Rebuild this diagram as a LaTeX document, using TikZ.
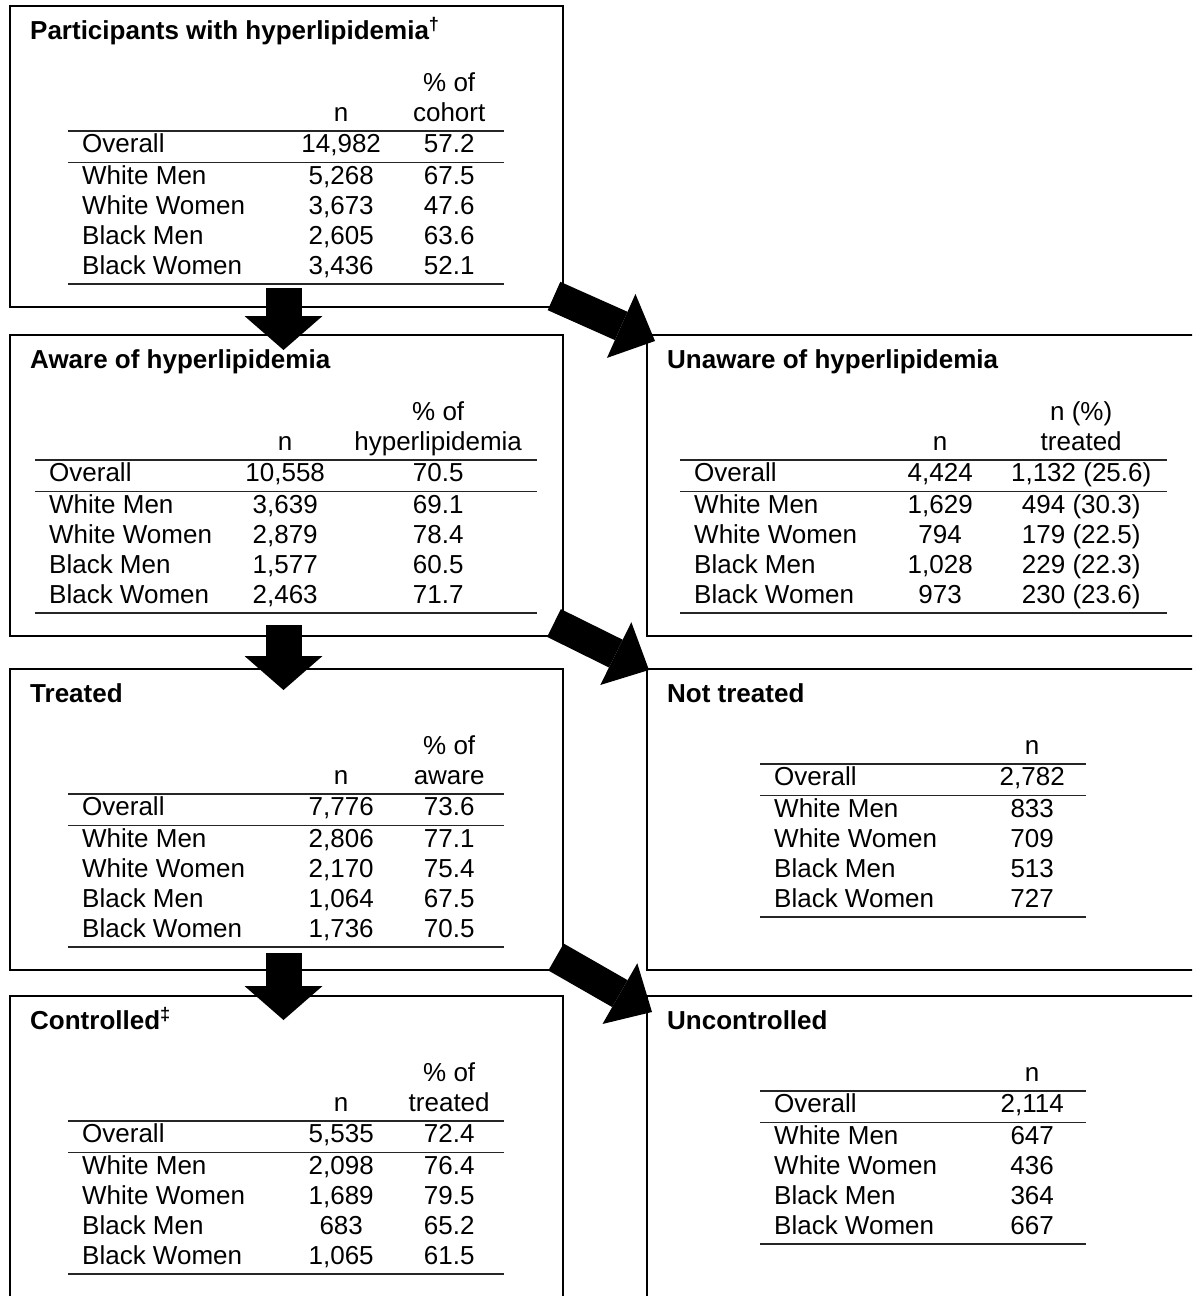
\PassOptionsToPackage{table}{xcolor}
\documentclass[tikz,border=0pt]{standalone}
\usepackage{fontspec}
\setmainfont{Liberation Sans}
\usepackage{array}
\usepackage{tikz}
\usetikzlibrary{arrows.meta, positioning}
\newcolumntype{L}[1]{>{\raggedright\arraybackslash}p{#1}}
\newcolumntype{C}[1]{>{\centering\arraybackslash}p{#1}}
\setlength{\tabcolsep}{0pt}
\setlength{\arrayrulewidth}{1.6pt}
\arrayrulecolor{black!85}

\begin{document}
\begin{tikzpicture}[
    x=1pt, y=1pt,
    every node/.style={font=\fontsize{26}{30}\selectfont},
    stage/.style={
        rectangle,
        draw=black,
        line width=2.8pt,
        minimum width=553pt,
        minimum height=301pt,
        inner sep=0pt,
        outer sep=0pt
    },
    title/.style={font=\fontsize{26}{30}\selectfont\bfseries, anchor=base west, inner sep=0pt},
    tab/.style={anchor=base west, inner sep=0pt},
    flow/.style={line width=36pt, -{Triangle[length=34pt, width=78pt, line width=0pt]}},
    branch/.style={line width=31pt, -{Triangle[length=37pt, width=70pt, line width=0pt]}}
]
\useasboundingbox (0,0) rectangle (1192,-1296);
\clip (0,0) rectangle (1192,-1296);

% boxes
\node[stage, anchor=north west] (hyper) at (10,-6) {};
\node[stage, below=28pt of hyper] (aware) {};
\node[stage, below=33pt of aware] (treated) {};
\node[stage, below=26pt of treated] (controlled) {};
\node[stage, right=84pt of aware] (unaware) {};
\node[stage, right=84pt of treated] (untreated) {};
\node[stage, right=84pt of controlled] (uncontrolled) {};

% titles
\node[title] (hyper-t) at ([shift={(20,-33.5)}]hyper.north west) {Participants with hyperlipidemia\textsuperscript{†}};
\node[title] (aware-t) at ([shift={(20,-33.5)}]aware.north west) {Aware of hyperlipidemia};
\node[title] (treated-t) at ([shift={(20,-33.5)}]treated.north west) {Treated};
\node[title] (controlled-t) at ([shift={(20,-33.5)}]controlled.north west) {Controlled\textsuperscript{‡}};
\node[title] (unaware-t) at ([shift={(20,-33.5)}]unaware.north west) {Unaware of hyperlipidemia};
\node[title] (untreated-t) at ([shift={(20,-33.5)}]untreated.north west) {Not treated};
\node[title] (uncontrolled-t) at ([shift={(20,-33.5)}]uncontrolled.north west) {Uncontrolled};

% tables
\node[tab] (hyper-tab) at ([shift={(58,-85)}]hyper.north west) {%
\begin{tabular}[t]{@{\hspace{14pt}}L{206pt}C{106pt}C{110pt}@{}}
 & & \% of \\
 & n & cohort \\ \hline
Overall & 14,982 & 57.2 \\ \hline
White Men & 5,268 & 67.5 \\
White Women & 3,673 & 47.6 \\
Black Men & 2,605 & 63.6 \\
Black Women & 3,436 & 52.1 \\ \hline
\end{tabular}};

\node[tab] (aware-tab) at ([shift={(25,-85)}]aware.north west) {%
\begin{tabular}[t]{@{\hspace{14pt}}L{182pt}C{108pt}C{198pt}@{}}
 & & \% of \\
 & n & hyperlipidemia \\ \hline
Overall & 10,558 & 70.5 \\ \hline
White Men & 3,639 & 69.1 \\
White Women & 2,879 & 78.4 \\
Black Men & 1,577 & 60.5 \\
Black Women & 2,463 & 71.7 \\ \hline
\end{tabular}};

\node[tab] (treated-tab) at ([shift={(58,-85)}]treated.north west) {%
\begin{tabular}[t]{@{\hspace{14pt}}L{206pt}C{106pt}C{110pt}@{}}
 & & \% of \\
 & n & aware \\ \hline
Overall & 7,776 & 73.6 \\ \hline
White Men & 2,806 & 77.1 \\
White Women & 2,170 & 75.4 \\
Black Men & 1,064 & 67.5 \\
Black Women & 1,736 & 70.5 \\ \hline
\end{tabular}};

\node[tab] (controlled-tab) at ([shift={(58,-85)}]controlled.north west) {%
\begin{tabular}[t]{@{\hspace{14pt}}L{206pt}C{106pt}C{110pt}@{}}
 & & \% of \\
 & n & treated \\ \hline
Overall & 5,535 & 72.4 \\ \hline
White Men & 2,098 & 76.4 \\
White Women & 1,689 & 79.5 \\
Black Men & 683 & 65.2 \\
Black Women & 1,065 & 61.5 \\ \hline
\end{tabular}};

\node[tab] (unaware-tab) at ([shift={(33,-85)}]unaware.north west) {%
\begin{tabular}[t]{@{\hspace{14pt}}L{191pt}C{110pt}C{172pt}@{}}
 & & n (\%) \\
 & n & treated \\ \hline
Overall & 4,424 & 1,132 (25.6) \\ \hline
White Men & 1,629 & 494 (30.3) \\
White Women & 794 & 179 (22.5) \\
Black Men & 1,028 & 229 (22.3) \\
Black Women & 973 & 230 (23.6) \\ \hline
\end{tabular}};

\node[tab] (untreated-tab) at ([shift={(113,-85)}]untreated.north west) {%
\begin{tabular}[t]{@{\hspace{14pt}}L{204pt}C{108pt}@{}}
 & n \\ \hline
Overall & 2,782 \\ \hline
White Men & 833 \\
White Women & 709 \\
Black Men & 513 \\
Black Women & 727 \\ \hline
\end{tabular}};

\node[tab] (uncontrolled-tab) at ([shift={(113,-85)}]uncontrolled.north west) {%
\begin{tabular}[t]{@{\hspace{14pt}}L{204pt}C{108pt}@{}}
 & n \\ \hline
Overall & 2,114 \\ \hline
White Men & 647 \\
White Women & 436 \\
Black Men & 364 \\
Black Women & 667 \\ \hline
\end{tabular}};

% arrows
\draw[flow] ([shift={(-3,19)}]hyper.south) -- ([shift={(-3,-15)}]aware.north);
\draw[flow] ([shift={(-3,11)}]aware.south) -- ([shift={(-3,-21)}]treated.north);
\draw[flow] ([shift={(-3,17)}]treated.south) -- ([shift={(-3,-24)}]controlled.north);
\draw[branch] ([shift={(-9,11)}]hyper.south east) -- ([shift={(8,-6)}]unaware.north west);
\draw[branch] ([shift={(-9,13)}]aware.south east) -- ([shift={(2,-1)}]untreated.north west);
\draw[branch] ([shift={(-7,13)}]treated.south east) -- ([shift={(5,-16)}]uncontrolled.north west);

\end{tikzpicture}
\end{document}
